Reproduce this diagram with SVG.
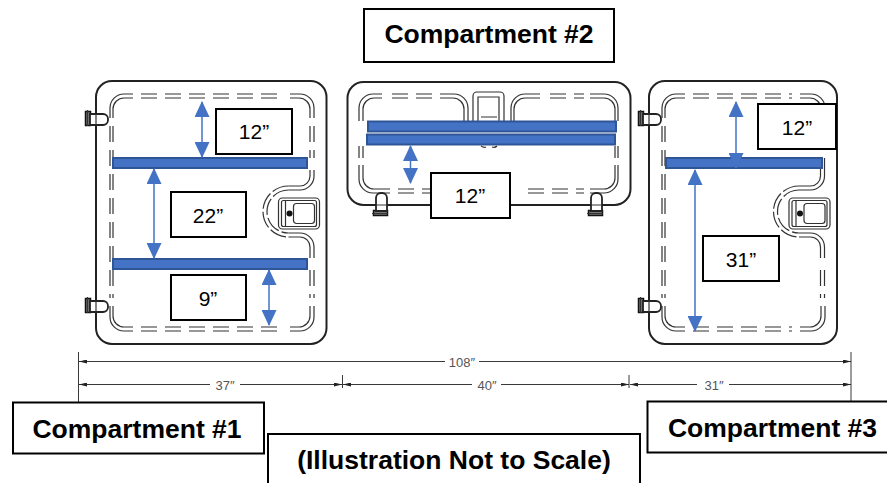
<svg xmlns="http://www.w3.org/2000/svg" width="887" height="483" viewBox="0 0 887 483">
<defs>
<style>
text{font-family:"Liberation Sans",Arial,sans-serif;fill:#000;text-anchor:middle}
.t{font-size:26.500px;font-weight:700}
.n{font-size:21px}
.d{font-size:13px;fill:#555}
.b{fill:#fff;stroke:#000;stroke-width:2}
.o{fill:#fff;stroke:#222;stroke-width:2}
.s{fill:none;stroke:#333;stroke-width:1.2}
.da{fill:none;stroke:#333;stroke-width:1.2;stroke-dasharray:16 8}
.dn{fill:none;stroke:#333;stroke-width:1.2;stroke-dasharray:17 3}
.bar{fill:#4472c4;stroke:#2f5597;stroke-width:2}
.a{stroke:#4472c4;stroke-width:1.5;fill:none;marker-start:url(#h);marker-end:url(#h)}
.l{stroke:#222;stroke-width:.9;fill:none}
.dl{stroke:#222;stroke-width:.9;fill:none;marker-start:url(#m);marker-end:url(#m)}
.hw{fill:#fff;stroke:#222;stroke-width:1.8}
.hd{fill:#777;stroke:#111;stroke-width:1.5}
</style>
<marker id="h" viewBox="0 0 16 15" refX="15" refY="7.5" markerWidth="16" markerHeight="15" markerUnits="userSpaceOnUse" orient="auto-start-reverse"><path d="M0 0L16 7.500L0 15Z" fill="#4472c4"/></marker>
<marker id="m" viewBox="0 0 8 4" refX="8" refY="2" markerWidth="8" markerHeight="4" markerUnits="userSpaceOnUse" orient="auto-start-reverse"><path d="M0 0L8 2L0 4Z" fill="#222"/></marker>
<g id="hinge"><rect class="hd" x="-11.500" y="-6.500" width="5" height="14"/><path class="hw" d="M-7-4H6a5 5 0 0 1 5 5v1a5 5 0 0 1-5 5H-7z"/><path class="s" d="M-9.500-8v16M-1-4V7"/></g>
<g id="latch"><rect class="s" x="-20" y="-15.500" width="41" height="31" rx="4"/><rect class="s" x="-17" y="-13" width="35" height="26" rx="2"/><path class="s" d="M-13-13V13"/><rect class="s" x="-5" y="-10" width="21" height="20" rx="3"/><circle cx="-9" cy="0" r="3" fill="#111"/></g>
<g id="notch">
<path class="s" d="M314 170V176a14 14 0 0 1-14 14H288.500M310 170V176a10 10 0 0 1-10 10H288.500"/>
<path class="dn" d="M288.500 186a25.500 25.500 0 0 0 0 51M288.500 190a21.500 21.500 0 0 0 0 43"/>
<path class="s" d="M288.500 233H300a14 14 0 0 1 14 14V258M288.500 237H300a10 10 0 0 1 10 10V258"/>
<use href="#latch" x="298.500" y="213.500"/>
</g>
</defs>
<rect width="887" height="483" fill="#fff"/>
<g id="door1">
<rect class="o" x="96" y="81" width="230.500" height="263" rx="16"/>
<path class="s" d="M110 118V108a14 14 0 0 1 14-14H133M113 118V109a11 11 0 0 1 11-11H133M290 94H300a14 14 0 0 1 14 14V118M290 98H299a11 11 0 0 1 11 11V118M110 306V317a14 14 0 0 0 14 14H133M113 306V316a11 11 0 0 0 11 11H133M290 331H300a14 14 0 0 0 14-14V306M290 327H299a11 11 0 0 0 11-11V306"/>
<path class="da" d="M141 94H282M141 98H282M141 331H282M141 327H282M110 126V298M113 126V298M314 126V158M310 126V158M314 270V298M310 270V298"/>
<use href="#notch"/>
<use href="#hinge" x="97" y="118"/>
<use href="#hinge" x="97" y="305"/>
<rect class="bar" x="113" y="158" width="194" height="10"/>
<rect class="bar" x="113" y="259" width="194" height="10"/>
</g>
<g id="door2">
<rect class="o" x="347.500" y="82" width="283" height="123" rx="16"/>
<path class="s" d="M359 121V108a14 14 0 0 1 14-14H382M363 121V109a11 11 0 0 1 11-11H382M440 94H454a14 14 0 0 1 14 14V121M440 98H453a11 11 0 0 1 11 11V121M511 121V108a14 14 0 0 1 14-14H540M514 121V109a11 11 0 0 1 11-11H540M590 94H604a14 14 0 0 1 14 14V121M590 98H604a11 11 0 0 1 11 11V121M359 165V179a14 14 0 0 0 14 14H390M363 165V178a11 11 0 0 0 11 11H390M590 193H604a14 14 0 0 0 14-14V165M590 189H604a11 11 0 0 0 11-11V165"/>
<path class="da" d="M392 94H432M392 98H432M550 94H584M550 98H584M398 193H430M398 189H430M528 193H584M528 189H584M359 146V158M363 146V158M618 146V158M615 146V158"/>
<path class="s" d="M473 121V96a4 4 0 0 1 4-4H500a4 4 0 0 1 4 4V121M478 121V97H499V121M481 117H497M481 146q3 2 5 1M492 147q3 1 5-1"/>
<use href="#hinge" transform="translate(380 204) rotate(-90)"/>
<use href="#hinge" transform="translate(595 204) rotate(-90)"/>
<rect class="bar" x="368" y="121.500" width="248" height="10"/>
<rect class="bar" x="367" y="134.500" width="248" height="10"/>
</g>
<g id="door3">
<rect class="o" x="649" y="81" width="188" height="263" rx="16"/>
<path class="s" d="M662 118V108a14 14 0 0 1 14-14H685M665 118V109a11 11 0 0 1 11-11H685M800 94H811a14 14 0 0 1 14 14V118M800 98H810a11 11 0 0 1 11 11V118M662 306V317a14 14 0 0 0 14 14H685M665 306V316a11 11 0 0 0 11 11H685M800 331H811a14 14 0 0 0 14-14V306M800 327H810a11 11 0 0 0 11-11V306M824.500 158V170M820.500 158V170"/>
<path class="da" d="M693 94H792M693 98H792M693 331H792M693 327H792M662 126V298M665 126V298M824.500 270V298M820.500 270V298"/>
<use href="#notch" x="510.500"/>
<use href="#hinge" x="650" y="118"/>
<use href="#hinge" x="650" y="305"/>
<rect class="bar" x="666" y="158" width="156" height="10"/>
</g>
<g id="connectors">
<path class="a" d="M202 102V157"/>
<path class="a" d="M154 169V258"/>
<path class="a" d="M269 270V325"/>
<path class="a" d="M410.500 146V183"/>
<path class="a" d="M736 102V168"/>
<path class="a" d="M695 170V331"/>
<path class="l" d="M78.500 352V402M851 352V401M342.500 375V388M629 375V388"/>
<path class="dl" d="M79 361.500H851"/>
<path class="dl" d="M79 384.500H342"/>
<path class="dl" d="M343 384.500H629"/>
<path class="dl" d="M630 384.500H851"/>
</g>
<g id="dims">
<rect x="445" y="354" width="34" height="14" fill="#fff"/><text class="d" x="462" y="366.500">108″</text>
<rect x="210" y="378" width="30" height="14" fill="#fff"/><text class="d" x="225" y="390">37″</text>
<rect x="472" y="378" width="29" height="14" fill="#fff"/><text class="d" x="487" y="390">40″</text>
<rect x="697" y="378" width="32" height="14" fill="#fff"/><text class="d" x="714" y="390">31″</text>
</g>
<g id="l12a"><rect class="b" x="216" y="109" width="76" height="45"/><text class="n" x="254" y="139">12”</text></g>
<g id="l22"><rect class="b" x="171" y="192" width="75" height="45"/><text class="n" x="208" y="223">22”</text></g>
<g id="l9"><rect class="b" x="171" y="275" width="75" height="45"/><text class="n" x="208" y="306">9”</text></g>
<g id="l12b"><rect class="b" x="431" y="173" width="79" height="45"/><text class="n" x="470" y="203">12”</text></g>
<g id="l12c"><rect class="b" x="758" y="104" width="78" height="45"/><text class="n" x="797" y="135">12”</text></g>
<g id="l31"><rect class="b" x="703" y="236" width="76" height="45"/><text class="n" x="741" y="267">31”</text></g>
<g id="c2"><rect class="b" x="364" y="9" width="250" height="53"/><text class="t" x="489" y="43">Compartment #2</text></g>
<g id="c1"><rect class="b" x="13" y="402.500" width="251" height="51"/><text class="t" x="137" y="438">Compartment #1</text></g>
<g id="c3"><rect class="b" x="647.500" y="401.500" width="241" height="51"/><text class="t" x="772.500" y="437">Compartment #3</text></g>
<g id="note"><rect class="b" x="268" y="434" width="372" height="60"/><text class="t" x="454" y="469">(Illustration Not to Scale)</text></g>
</svg>
